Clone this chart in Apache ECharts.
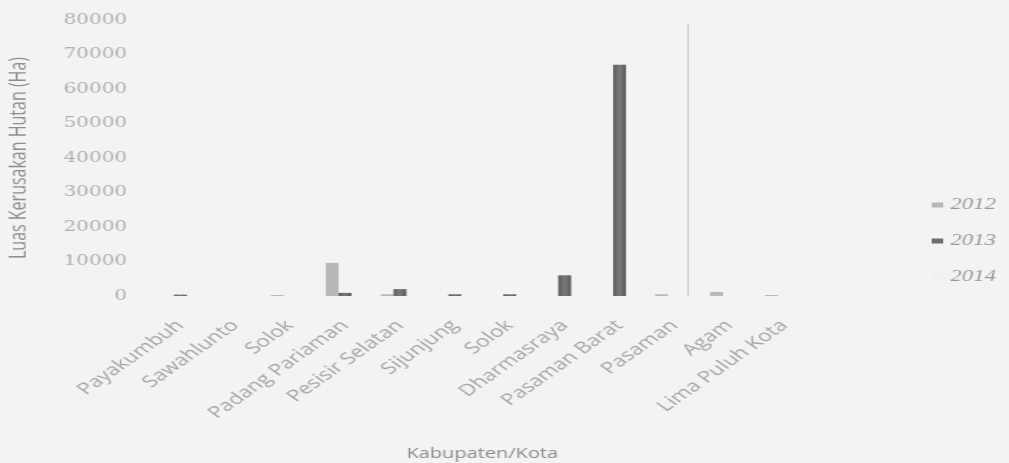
<!DOCTYPE html>
<html>
<head>
<meta charset="utf-8">
<script src="https://cdn.jsdelivr.net/npm/echarts@6/dist/echarts.min.js"></script>
<style>
  html, body { margin: 0; padding: 0; background: #f3f3f3; overflow: hidden; }
  #wrap { width: 1009px; height: 463px; overflow: hidden; }
  /* the chart is laid out narrow and widened horizontally */
  #chart { width: 706px; height: 463px; transform: scaleX(1.429); transform-origin: 0 0; }
</style>
</head>
<body>
<div id="wrap"><div id="chart"></div></div>
<script>
const categories = ['Payakumbuh', 'Sawahlunto', 'Solok', 'Padang Pariaman', 'Pesisir Selatan', 'Sijunjung',
                    'Solok', 'Dharmasraya', 'Pasaman Barat', 'Pasaman', 'Agam', 'Lima Puluh Kota'];
const values2012 = [0, 0, 300, 9600, 500, 0, 0, 0, 0, 500, 1200, 300];
const values2013 = [400, 0, 0, 900, 2000, 500, 500, 6000, 67000, 0, 0, 0];
const values2014 = [0, 0, 0, 0, 0, 0, 0, 0, 0, 79000, 0, 0];
const yTicks = [0, 10000, 20000, 30000, 40000, 50000, 60000, 70000, 80000];

const chart = echarts.init(document.getElementById('chart'), null, { renderer: 'canvas' });

// 2014 bars: pale body with a thin grey edge
const pale2014 = {
  type: 'linear', x: 0, y: 0, x2: 1, y2: 0,
  colorStops: [
    { offset: 0, color: 'rgba(240,240,240,0)' },
    { offset: 0.5, color: 'rgba(240,240,240,0)' },
    { offset: 0.52, color: '#c6c6c6' },
    { offset: 0.64, color: '#c6c6c6' },
    { offset: 0.66, color: 'rgba(240,240,240,0)' },
    { offset: 1, color: 'rgba(240,240,240,0)' }
  ]
};

// 2013 bars: darker at the edges
const dark2013 = {
  type: 'linear', x: 0, y: 0, x2: 1, y2: 0,
  colorStops: [
    { offset: 0, color: '#5c5c5c' },
    { offset: 0.5, color: '#7a7a7a' },
    { offset: 1, color: '#5a5a5a' }
  ]
};

chart.setOption({
  backgroundColor: '#f3f3f3',
  animation: false,
  grid: { left: 107, right: 138, top: 20, bottom: 167, containLabel: false, outerBoundsMode: 'none' },
  legend: {
    orient: 'vertical',
    left: 647,
    top: 192,
    itemGap: 20,
    itemWidth: 8,
    itemHeight: 5,
    icon: 'rect',
    textStyle: { fontFamily: 'Liberation Serif', fontStyle: 'italic', fontSize: 16, color: '#9a9a9a' },
    data: [
      { name: '2012', itemStyle: { color: '#b8b8b8' } },
      { name: '2013', itemStyle: { color: '#6e6e6e' } },
      { name: '2014', itemStyle: { color: '#f0f0f0' } }
    ]
  },
  xAxis: {
    type: 'category',
    data: categories,
    name: 'Kabupaten/Kota',
    nameLocation: 'middle',
    nameGap: 151,
    nameTextStyle: { fontFamily: 'Open Sans', fontSize: 14, color: '#8c8c8c' },
    axisLine: { show: false },
    axisTick: { show: false },
    axisLabel: {
      interval: 0,
      rotate: 45,
      margin: 27,
      fontFamily: 'Open Sans',
      fontSize: 16,
      color: '#a6a6a6'
    }
  },
  yAxis: {
    type: 'value',
    min: yTicks[0],
    max: yTicks[yTicks.length - 1],
    interval: yTicks[1] - yTicks[0],
    name: 'Luas Kerusakan Hutan (Ha)',
    nameLocation: 'middle',
    nameGap: 86,
    nameTextStyle: { fontFamily: 'Open Sans', fontSize: 16, color: '#8e8e8e' },
    axisLine: { show: false },
    axisTick: { show: false },
    splitLine: { show: false },
    axisLabel: {
      margin: 18,
      fontFamily: 'DejaVu Serif',
      fontSize: 14,
      color: '#b0b0b0',
      formatter: v => String(v)
    }
  },
  series: [
    {
      name: '2012', type: 'bar', data: values2012, barWidth: 9, barGap: '0%',
      itemStyle: { color: '#b8b8b8' }
    },
    {
      name: '2013', type: 'bar', data: values2013, barWidth: 9, barGap: '0%',
      itemStyle: { color: dark2013 }
    },
    {
      name: '2014', type: 'bar', data: values2014, barWidth: 9, barGap: '0%',
      itemStyle: { color: pale2014 }
    }
  ]
});
</script>
</body>
</html>
